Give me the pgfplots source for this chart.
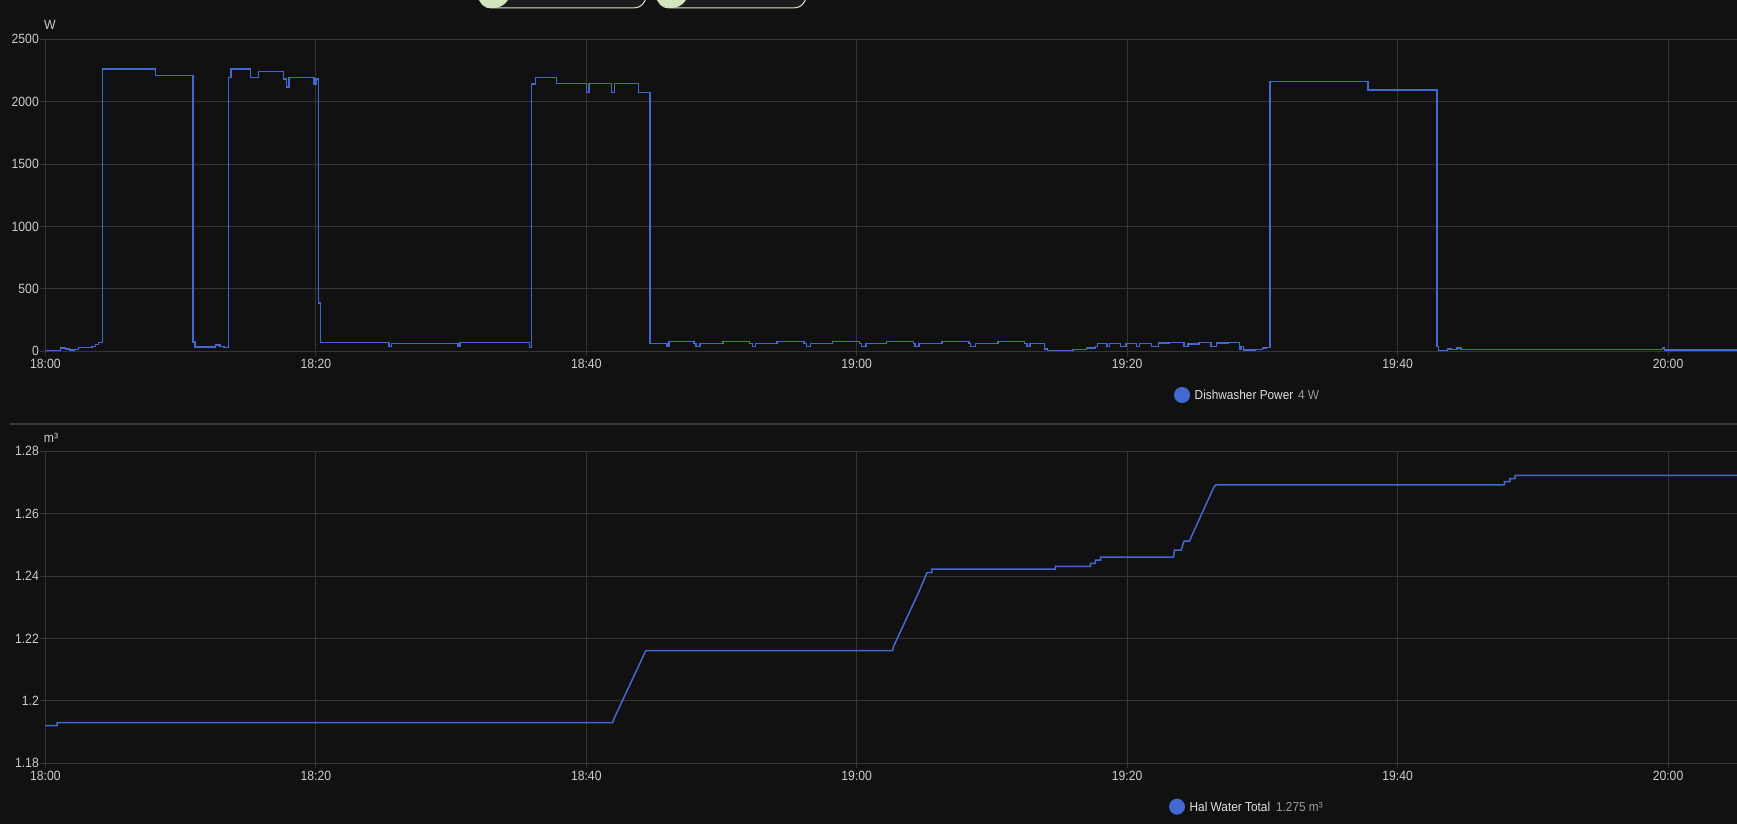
\documentclass[border=0pt]{standalone}
\usepackage{fontspec}
\setmainfont{Liberation Sans}[FakeStretch=0.91]
\usepackage{pgfplots}
\pgfplotsset{compat=1.18}
\definecolor{bgc}{HTML}{111111}
\definecolor{gridc}{HTML}{353535}
\definecolor{tickc}{HTML}{CDCDCD}
\definecolor{linec}{HTML}{4269D0}
\definecolor{legc}{HTML}{E1E1E1}
\definecolor{valc}{HTML}{9B9B9B}
\definecolor{sepc}{HTML}{3A3A3A}
\definecolor{pillb}{HTML}{D4E8C4}
\definecolor{pillf}{HTML}{1C1C1C}
\definecolor{pillc}{HTML}{D2E6BE}
\pgfplotsset{
  hastyle/.style={
    anchor=south west, scale only axis, width=845.8pt, height=156pt,
    xmin=0, xmax=125.1,
    xtick={0,20,40,60,80,100,120},
    xticklabels={18:00,18:20,18:40,19:00,19:20,19:40,20:00},
    grid=major, grid style={draw=gridc, line width=0.5pt},
    axis line style={draw=none},
    tick align=outside, major tick length=2.5pt,
    tick style={draw=gridc, line width=0.5pt},
    xtick pos=left, ytick pos=left,
    tick label style={font=\fontsize{6.7}{7}\selectfont, text=tickc, inner sep=0pt},
    xticklabel style={yshift=-1.2pt},
    yticklabel style={xshift=-0.6pt},
  }
}
\begin{document}
\begin{tikzpicture}
\path[use as bounding box, fill=bgc] (0,0) rectangle (868.5pt,412pt);
\clip (0,0) rectangle (868.5pt,412pt);
% filter pills (cut off at top)
\draw[pillb, fill=pillf, line width=0.5pt, rounded corners=6pt] (239.5pt,408pt) rectangle (323pt,425pt);
\fill[pillc] (246.75pt,416.5pt) circle (8.5pt);
\draw[pillb, fill=pillf, line width=0.5pt, rounded corners=6pt] (328.5pt,408pt) rectangle (403pt,425pt);
\fill[pillc] (335.75pt,416.5pt) circle (8.5pt);
% separator
\draw[sepc, line width=1pt] (5.15pt,200pt) -- (868.5pt,200pt);

\begin{axis}[hastyle, at={(22.7pt,236.35pt)},
  ymin=0, ymax=2500, ytick={0,500,1000,1500,2000,2500},
  yticklabels={0,500,1000,1500,2000,2500}]
\addplot[const plot, linec, line width=0.75pt] coordinates {
(0,5) (1.1,25) (1.5,18) (1.8,12) (2.1,16) (2.44,30) (3.43,40) (3.7,55) (3.94,70)
(4.22,2260) (8.16,2210) (10.93,75) (11.08,35) (12.58,50) (12.9,40) (13.2,30)
(13.54,2193) (13.71,2260) (15.18,2193) (15.75,2243) (17.6,2180) (17.82,2118)
(18.02,2193) (19.86,2137) (20.03,2180) (20.2,385) (20.34,70) (25.41,40) (25.58,61)
(30.5,40) (30.67,72) (35.8,29) (35.95,2142) (36.24,2195) (37.8,2145) (40.0,2075)
(40.2,2147) (41.87,2075) (42.07,2147) (43.88,2075) (44.7,61) (45.97,37) (46.1,78)
(47.95,61) (48.1,40) (48.4,61) (50.1,78) (52.06,61) (52.3,40) (52.5,61) (54.1,78)
(56.1,61) (56.3,40) (56.6,61) (58.2,78) (60.2,61) (60.35,40) (60.7,61) (62.2,78)
(64.2,61) (64.3,40) (64.6,61) (66.3,78) (68.3,61) (68.4,40) (68.8,61) (70.45,78)
(72.4,61) (72.6,40) (72.8,61) (73.9,18) (74.1,5) (75.1,8) (76.0,15) (77.0,25)
(77.67,37) (77.8,61) (78.5,40) (78.7,61) (79.5,40) (79.9,61) (80.7,40) (80.9,61)
(81.8,40) (82.3,65) (83.1,70) (84.2,40) (84.5,60) (85.3,70) (86.2,40) (86.6,65)
(87.5,70) (88.3,20) (88.4,40) (88.6,10) (89.5,15) (90.0,25) (90.3,32) (90.55,2161)
(97.8,2094) (102.9,37) (103.04,5) (103.7,20) (104.0,15) (104.4,25) (104.7,16)
(119.6,25) (119.75,10) (125.1,10)
};
\end{axis}

\begin{axis}[hastyle, at={(22.7pt,30.35pt)},
  ymin=1.18, ymax=1.28, ytick={1.18,1.2,1.22,1.24,1.26,1.28},
  yticklabels={1.18,1.2,1.22,1.24,1.26,1.28}]
\addplot[linec, line width=0.75pt] coordinates {
(0,1.1921) (0.87,1.1921) (0.87,1.1930) (41.95,1.1930) (42.05,1.1943) (44.4,1.2161)
(62.66,1.2161) (62.72,1.2174) (64.6,1.2350) (65.2,1.2411) (65.56,1.2411)
(65.56,1.2422) (74.7,1.2422) (74.7,1.2431) (77.28,1.2431) (77.28,1.2441)
(77.65,1.2441) (77.65,1.2451) (78.04,1.2451) (78.04,1.2461) (83.43,1.2461)
(83.5,1.2483) (84.0,1.2483) (84.2,1.2512) (84.6,1.2512) (86.4,1.2684)
(86.55,1.2692) (107.9,1.2692) (107.9,1.2703) (108.3,1.2703) (108.3,1.2712)
(108.7,1.2712) (108.7,1.2723) (125.1,1.2723)
};
\end{axis}

% unit labels
\node[text=tickc, font=\fontsize{6.7}{7}\selectfont, inner sep=0pt] at (25pt,399.5pt) {W};
\node[text=tickc, font=\fontsize{6.7}{7}\selectfont, inner sep=0pt] at (25.5pt,193.15pt) {m³};
% legends
\fill[linec] (591pt,214.5pt) circle (4pt);
\node[anchor=west, inner sep=0pt, text=legc, font=\fontsize{6.5}{7}\selectfont] at (597.15pt,214.5pt) {Dishwasher Power};
\node[anchor=west, inner sep=0pt, text=valc, font=\fontsize{6.5}{7}\selectfont] at (648.85pt,214.5pt) {4 W};
\fill[linec] (588.5pt,8.65pt) circle (4pt);
\node[anchor=west, inner sep=0pt, text=legc, font=\fontsize{6.5}{7}\selectfont] at (594.65pt,8.65pt) {Hal Water Total};
\node[anchor=west, inner sep=0pt, text=valc, font=\fontsize{6.5}{7}\selectfont] at (637.85pt,8.65pt) {1.275 m³};
\end{tikzpicture}
\end{document}
